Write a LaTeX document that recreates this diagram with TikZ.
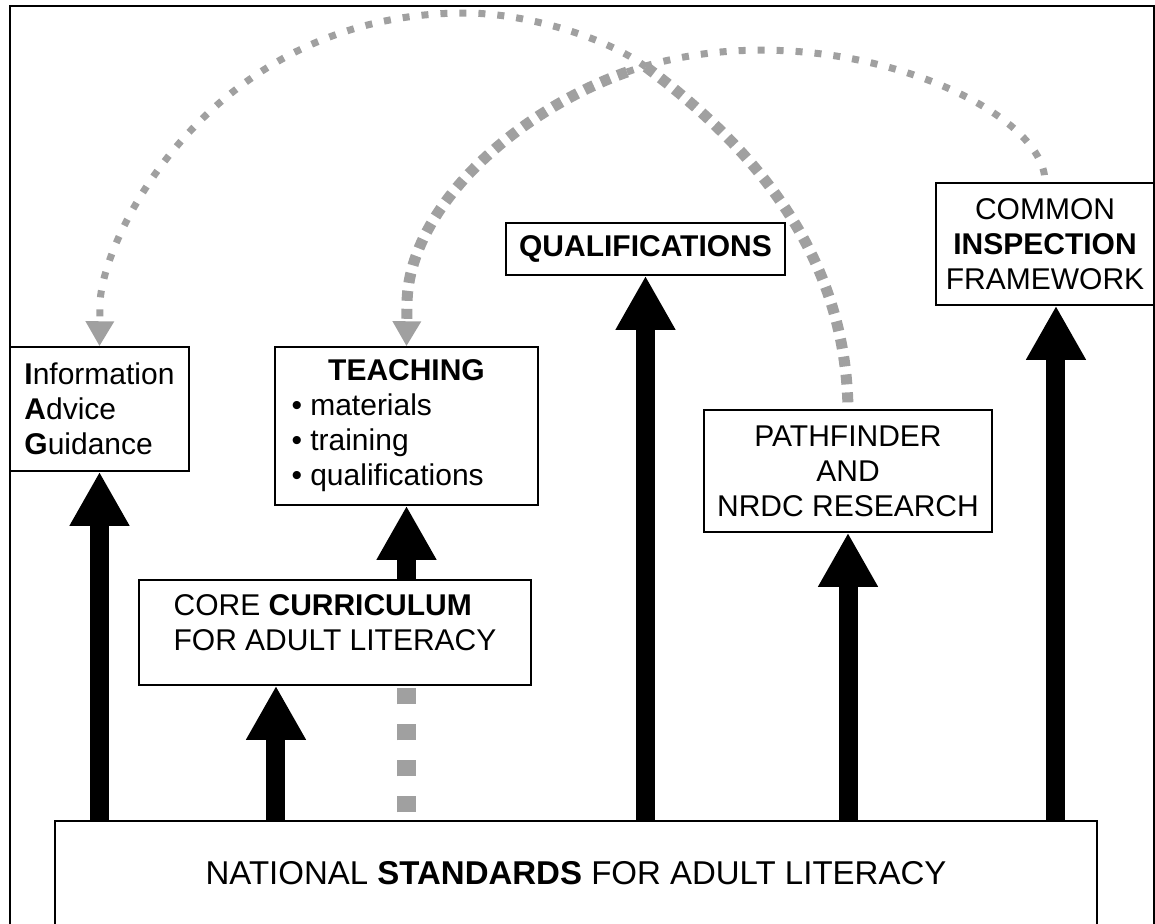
\documentclass[tikz,border=0pt]{standalone}
\usepackage{fontspec}
\setmainfont{Liberation Sans}
\usepackage{tikz}
\usetikzlibrary{arrows.meta,positioning,calc}
\definecolor{linkgray}{RGB}{160,160,160}

\begin{document}
\begin{tikzpicture}[x=0.5pt, y=-0.5pt,
    box/.style={draw, line width=0.75pt, inner sep=0pt, font=\fontsize{15pt}{17.5pt}\selectfont},
    uparrow/.style={line width=9.5pt, -{Triangle[width=28pt,length=27pt]}},
    sparse/.style={linkgray, line width=3.5pt, dash pattern=on 3.5pt off 6pt},
    dense/.style={linkgray, line width=5.5pt, dash pattern=on 5pt off 4pt},
    grayhead/.style={-{Triangle[width=13.5pt,length=12.5pt]}}]

    \clip (0,0) rectangle (1155,923);
    % outer frame
    \draw[line width=0.75pt] (10,6) rectangle (1154,935);

    % Boxes
    \node[box, minimum width=89.5pt, minimum height=62pt, align=left] (iag) at (99.5,409)
        {\textbf{I}nformation\\\textbf{A}dvice\\\textbf{G}uidance};
    \node[box, minimum width=131.5pt, minimum height=79pt, align=left] (teach) at (406.5,426)
        {\makebox[115pt]{\textbf{TEACHING}}\\\textbullet\ materials\\\textbullet\ training\\\textbullet\ qualifications};
    \node[box, minimum width=139.5pt, minimum height=26pt] (qual) at (645.5,249) {\textbf{QUALIFICATIONS}};
    \node[box, minimum width=109pt, minimum height=61pt, align=center] (insp) at (1045,244)
        {COMMON\\\textbf{INSPECTION}\\FRAMEWORK};
    \node[box, minimum width=144pt, minimum height=61pt, align=center] (path) at (848,471)
        {PATHFINDER\\AND\\NRDC RESEARCH};
    \node[box, minimum width=196pt, minimum height=52.5pt] (core) at (335,632.5) {};
    \node[font=\fontsize{15pt}{17.5pt}\selectfont, inner sep=0pt, align=left] (coretxt) at (335,622.5)
        {CORE \textbf{CURRICULUM}\\FOR ADULT LITERACY};
    \node[box, minimum width=521pt, minimum height=52pt, font=\fontsize{16.5pt}{19pt}\selectfont] (nat) at (576,873)
        {NATIONAL \textbf{STANDARDS} FOR ADULT LITERACY};

    % Black arrows up from the standards
    \coordinate (c1) at ($(core.south west)!.35!(core.south east)$);
    \coordinate (c2) at ($(insp.south west)!.55!(insp.south east)$);
    \draw[uparrow] (iag.south |- nat.north) -- (iag.south);
    \draw[uparrow] (c1 |- nat.north) -- (c1);
    \draw[uparrow] (teach.south |- core.north) -- (teach.south);
    \draw[uparrow] (qual.south |- nat.north) -- (qual.south);
    \draw[uparrow] (path.south |- nat.north) -- (path.south);
    \draw[uparrow] (c2 |- nat.north) -- (c2);

    % Grey link under the teaching arrow
    \draw[linkgray, line width=9.5pt, dash pattern=on 8pt off 10pt, dash phase=14pt]
        (teach.south |- nat.north) -- (teach.south |- core.south);

    % Grey feedback arcs
    \coordinate (xa) at (646,67);
    \coordinate (xb) at (627,72);
    \draw[sparse, grayhead] (xa) .. controls (606,37) and (525,13) .. (465,13)
        .. controls (210,13) and (100,240) .. (100,305) -- (iag.north);
    \draw[dense] (xa) .. controls (760,152) and (846,260) .. (path.north);
    \draw[dense, grayhead] (xb) .. controls (514,112) and (407,210) .. (407,305) -- (teach.north);
    \draw[sparse] (xb) .. controls (815,6) and (1046,103) .. (insp.north);
\end{tikzpicture}
\end{document}
